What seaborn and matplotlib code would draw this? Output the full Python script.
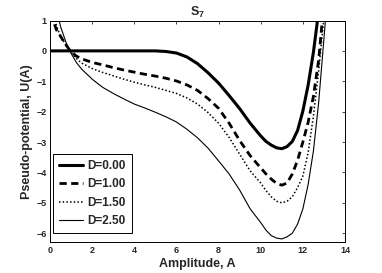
"""Pseudo-potential U(A) for several D values (S_7 case)."""

import matplotlib

matplotlib.use("Agg")

import matplotlib.pyplot as plt
import numpy as np
import pandas as pd
import seaborn as sns

# amplitude grid the curves were read on
amplitude = [
    0.0, 0.1, 0.2, 0.3, 0.4, 0.5, 0.75, 1.0, 1.25, 1.5, 2.0, 2.5, 3.0, 3.5,
    4.0, 4.5, 5.0, 5.5, 6.0, 6.5, 7.0, 7.5, 8.0, 8.5, 9.0, 9.5, 10.0, 10.25,
    10.5, 10.75, 11.0, 11.25, 11.5, 11.75, 12.0, 12.25, 12.5, 12.75, 13.0, 13.25,
]

# U(A), one list per D (nan = off the top of the plot)
u_d000 = [
    0.0, 0.0, 0.0, 0.0, 0.0, 0.0, 0.0, 0.0, 0.0, 0.0, 0.0, 0.0, 0.0, 0.0,
    0.0, 0.0, 0.0, -0.02, -0.07, -0.2, -0.42, -0.72, -1.06, -1.47, -1.9, -2.38, -2.8, -2.98,
    -3.1, -3.19, -3.22, -3.15, -2.98, -2.62, -1.98, -1.13, -0.05, 1.3, np.nan, np.nan,
]
u_d100 = [
    np.nan, 1.25, 0.9, 0.7, 0.58, 0.48, 0.2, -0.03, -0.17, -0.26, -0.38, -0.46, -0.55, -0.63,
    -0.7, -0.77, -0.83, -0.9, -0.99, -1.12, -1.3, -1.57, -1.89, -2.38, -2.95, -3.45, -3.85, -4.05,
    -4.22, -4.36, -4.42, -4.35, -4.05, -3.6, -3.0, -2.35, -1.5, -0.3, 1.6, np.nan,
]
u_d150 = [
    np.nan, 1.6, 1.15, 0.85, 0.65, 0.5, 0.2, -0.05, -0.25, -0.4, -0.58, -0.71, -0.82, -0.93,
    -1.03, -1.12, -1.2, -1.3, -1.4, -1.55, -1.75, -2.03, -2.38, -2.85, -3.4, -3.95, -4.35, -4.6,
    -4.8, -4.95, -5.0, -4.95, -4.8, -4.5, -4.12, -3.35, -2.15, -0.65, 1.1, np.nan,
]
u_d250 = [
    np.nan, np.nan, 2.0, 1.45, 1.1, 0.8, 0.3, -0.08, -0.38, -0.6, -0.93, -1.2, -1.4, -1.58,
    -1.75, -1.88, -2.02, -2.17, -2.34, -2.58, -2.86, -3.2, -3.62, -4.05, -4.58, -5.2, -5.65, -5.9,
    -6.08, -6.16, -6.19, -6.12, -6.0, -5.7, -5.2, -4.4, -3.3, -1.7, 0.4, 2.5,
]

labels = ["D=0.00", "D=1.00", "D=1.50", "D=2.50"]
series = [u_d000, u_d100, u_d150, u_d250]
styles = {
    "D=0.00": dict(linestyle="-", linewidth=2.2),
    "D=1.00": dict(linestyle=(0, (2.6, 1.6)), linewidth=2.0),
    "D=1.50": dict(linestyle=(0, (1.0, 1.4)), linewidth=1.1),
    "D=2.50": dict(linestyle="-", linewidth=0.8),
}

sns.set_style("white")
plt.rcParams["font.family"] = ["Liberation Sans", "DejaVu Sans"]
plt.rcParams["font.weight"] = "bold"
plt.rcParams["mathtext.fontset"] = "custom"
plt.rcParams["mathtext.rm"] = "Liberation Sans"
plt.rcParams["mathtext.bf"] = "Liberation Sans:bold"

fig = plt.figure(figsize=(3.82, 2.73), dpi=100)
ax = fig.add_axes([50 / 382, 1 - 242.3 / 273, 295 / 382, 221.8 / 273])

for label, values in zip(labels, series):
    df = pd.DataFrame({"A": amplitude, "U": values}).dropna()
    sns.lineplot(data=df, x="A", y="U", ax=ax, color="black", label=label,
                 estimator=None, **styles[label])

ax.set_xlim(0, 14)
ax.set_ylim(-6.3, 1)
ax.set_xticks(range(0, 15, 2))
ax.set_yticks(range(-6, 2))
ax.tick_params(direction="in", top=True, right=True, length=2.5, width=0.6,
               labelsize=6.5, pad=2.5)
for lab in ax.get_xticklabels() + ax.get_yticklabels():
    lab.set_fontweight("bold")
for sp in ax.spines.values():
    sp.set_color("black")
    sp.set_linewidth(0.7)

ax.set_xlabel("Amplitude, A", fontsize=9, fontweight="bold", labelpad=2)
ax.set_ylabel("Pseudo-potential, U(A)", fontsize=9, fontweight="bold", labelpad=2)
ax.set_title(r"$\mathbf{S_7}$", fontsize=9, pad=3)

leg = ax.legend(loc="lower left", bbox_to_anchor=(3 / 295, 9 / 222), borderaxespad=0,
                fancybox=False, framealpha=1, edgecolor="black",
                prop={"size": 8.5, "weight": "bold"}, handlelength=2.0,
                handletextpad=0.4, labelspacing=0.55, borderpad=0.5)
leg.get_frame().set_linewidth(0.7)

fig.savefig("out.png", dpi=100)
